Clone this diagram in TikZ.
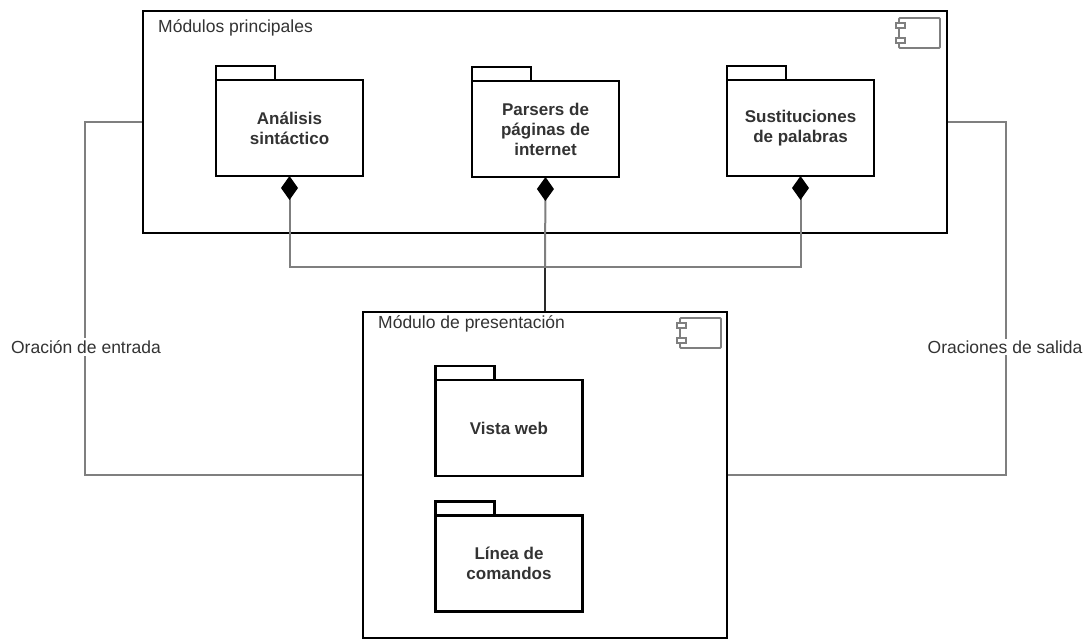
\documentclass[tikz,border=0pt]{standalone}
\usepackage{fontspec}
\setmainfont{Liberation Sans}
\usetikzlibrary{arrows.meta}
\definecolor{txt}{HTML}{333333}
\definecolor{lin}{HTML}{7F7F7F}
\definecolor{lindark}{HTML}{2A2A2A}
\tikzset{
  module/.style={draw=black,line width=2.8pt,fill=white,inner sep=0pt},
  pkg/.style={draw=black,line width=2.6pt,fill=white,minimum width=147pt,minimum height=96pt,inner sep=0pt,outer sep=0pt,
    align=center,font=\fontsize{17}{20}\selectfont\bfseries,text=txt},
  tab/.style={draw=black,line width=2.6pt,fill=white},
  title/.style={anchor=west,font=\fontsize{17.5}{20}\selectfont,text=txt,inner sep=0pt},
  conn/.style={draw=lin,line width=2pt},
  trunk/.style={draw=lindark,line width=2pt},
  lbl/.style={fill=white,font=\fontsize{17.5}{20}\selectfont,text=txt,inner sep=2pt},
  comp/.style={draw=lin,line width=1.8pt,rounded corners=1pt},
  compsmall/.style={draw=lin,line width=1.3pt,fill=white},
  dia/.style={{Diamond[length=24pt,width=17pt,fill=black,color=black]}-}
}
\newcommand{\compicon}[2]{%
  \draw[comp] (#1+3,#2) rectangle (#1+44,#2+30);
  \draw[compsmall] (#1,#2+5) rectangle (#1+9,#2+10);
  \draw[compsmall] (#1,#2+20) rectangle (#1+9,#2+25);
}
\begin{document}
\begin{tikzpicture}[x=1pt,y=-1pt]
\useasboundingbox (0,0) rectangle (1089,640);
% modules
\node[module,minimum width=804pt,minimum height=222pt] (m1) at (545,122) {};
\node[module,minimum width=364pt,minimum height=326pt] (m2) at (545,475) {};
\node[title] (t1) at (158,28) {Módulos principales};
\node[title] (t2) at (378,324) {Módulo de presentación};
\compicon{896}{18}
\compicon{677}{318}
% packages
\node[pkg] (p1) at (289.5,128) {Análisis\\sintáctico};
\node[pkg] (p2) at (545.5,129) {Parsers de\\páginas de\\internet};
\node[pkg] (p3) at (800.5,128) {Sustituciones\\de palabras};
\node[pkg] (p4) at (509,428) {Vista web};
\node[pkg] (p5) at (509,563.5) {Línea de\\comandos};
\foreach \p in {p1,p2,p3,p4,p5}{
  \draw[tab] (\p.north west) rectangle ++(59,-14);
}
% composition connectors
\draw[trunk] (m2.north) -- ++(0,-44) coordinate (j);
\draw[conn,dia] (p1.south) -- (p1.south |- j) -- (j);
\draw[conn,dia] (p2.south) -- (j);
\draw[conn,dia] (p3.south) -- (p3.south |- j) -- (j);
% side connectors
\draw[conn] (m1.west) -- ++(-57,0) coordinate (lt) |- (m2.west);
\draw[conn] (m1.east) -- ++(58,0) coordinate (rt) |- (m2.east);
\node[lbl] (l1) at (86,347) {Oración de entrada};
\node[lbl] (l2) at (1005,347) {Oraciones de salida};
\end{tikzpicture}
\end{document}
